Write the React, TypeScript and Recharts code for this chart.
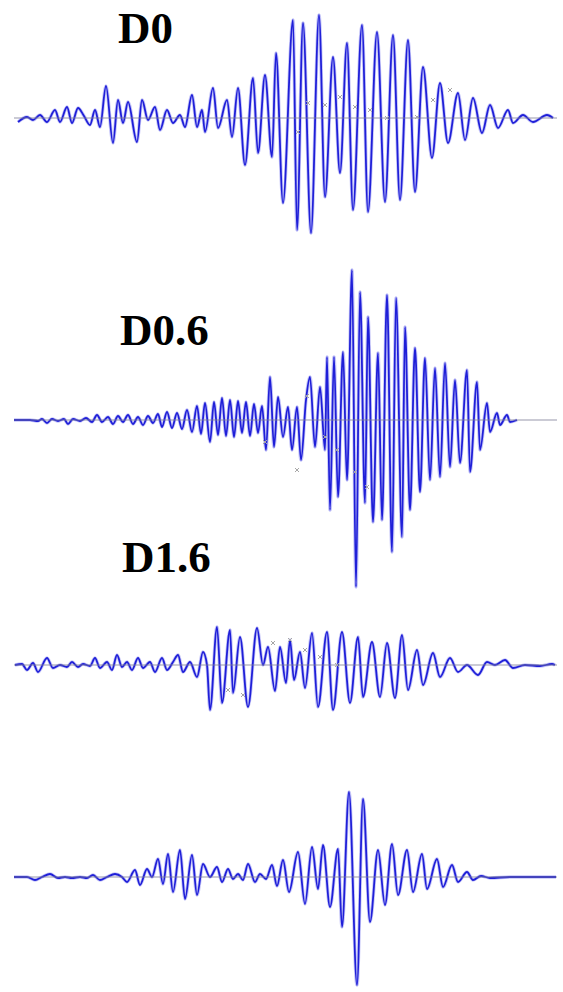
import React from "react";
import { ComposedChart, Line, Scatter, XAxis, YAxis, ReferenceLine } from "recharts";

const WIDTH = 563;
const HEIGHT = 992;

// Each trace: [time, amplitude] pairs at the turning points of the record.
const traceD0: [number, number][] = [
  [18, -4], [27, 1], [33, -2], [40, 3], [47, -4], [55, 8], [60, -4], [67, 11], [72, -5], [78, 10],
  [84, 2], [90, -7], [95, 8], [100, -9], [106, 32], [113, -25], [118, 18], [123, -5], [128, 16], [137, -24],
  [142, 18], [148, -2], [155, 11], [160, -12], [167, 8], [173, -5], [180, 3], [185, -9], [192, 23], [197, -9],
  [202, 8], [205, -14], [213, 30], [218, -10], [227, 18], [232, -19], [238, 30], [245, -47], [253, 40], [258, -35],
  [265, 43], [272, -39], [276, 65], [283, -85], [293, 98], [297, -112], [303, 95], [311, -115], [319, 103], [325, -79],
  [333, 61], [340, -55], [347, 75], [353, -92], [362, 93], [368, -94], [377, 86], [385, -84], [393, 83], [400, -82],
  [408, 78], [415, -74], [423, 51], [432, -40], [440, 35], [448, -25], [458, 25], [465, -22], [473, 20], [482, -15],
  [490, 13], [498, -10], [508, 8], [513, -5], [523, 3], [533, -4], [547, 3], [553, 0],
];

const traceD06: [number, number][] = [
  [14, 0], [30, 0], [38, -1], [42, 1], [47, -3], [52, 1], [58, -1], [64, 1], [68, -4], [73, 1],
  [80, -1], [86, 2], [92, -2], [97, 5], [102, -2], [108, 3], [113, -4], [118, 4], [123, -2], [128, 5],
  [133, -4], [138, 3], [143, -5], [148, 4], [153, -3], [158, 6], [162, -7], [167, 8], [172, -8], [177, 7],
  [182, -9], [187, 10], [192, -12], [197, 14], [201, -14], [205, 17], [210, -22], [214, 18], [218, -15], [222, 22],
  [226, -16], [230, 20], [234, -17], [238, 19], [242, -13], [246, 18], [250, -16], [254, 16], [258, -13], [262, 14],
  [266, -30], [270, 43], [274, -27], [278, 23], [283, -17], [288, 13], [292, -30], [297, 13], [301, -40], [306, 20],
  [310, 43], [315, -27], [320, 33], [325, -30], [327, 63], [330, -90], [334, 63], [338, -77], [343, 68], [347, -60],
  [352, 150], [356, -167], [360, 128], [365, -83], [368, 103], [373, -102], [378, 67], [382, -100], [387, 125], [392, -132],
  [396, 122], [402, -117], [405, 93], [410, -90], [415, 72], [420, -72], [425, 62], [430, -60], [435, 52], [440, -57],
  [445, 57], [450, -47], [455, 40], [460, -43], [467, 50], [470, -52], [477, 38], [480, -30], [487, 17], [490, -12],
  [497, 7], [500, -5], [507, 5], [510, -2], [517, 0],
];

const traceD16: [number, number][] = [
  [15, 0], [22, 1], [27, -5], [33, 2], [38, -7], [47, 7], [53, -3], [60, 0], [67, -2], [72, 3],
  [78, -2], [83, 1], [90, -1], [95, 7], [100, -3], [107, 3], [112, -5], [117, 10], [122, -2], [127, 3],
  [132, -5], [138, 7], [143, -3], [150, 3], [155, -7], [162, 7], [167, -5], [173, 3], [178, 10], [183, -7],
  [190, 3], [197, -12], [203, 13], [207, 0], [210, -45], [217, 38], [222, -38], [230, 35], [233, -28], [240, 28],
  [248, -42], [257, 37], [263, 0], [268, 18], [275, -26], [280, 18], [286, -18], [290, 25], [294, -15], [300, 13],
  [305, -23], [312, 32], [318, -42], [327, 33], [333, -45], [342, 33], [350, -38], [358, 28], [363, -32], [372, 23],
  [380, -32], [387, 22], [395, -33], [402, 30], [408, -25], [417, 15], [423, -20], [433, 12], [440, -12], [450, 7],
  [458, -7], [467, 0], [478, -10], [487, 3], [495, 0], [505, 5], [513, -3], [525, 0], [540, -1], [552, 1], [555, 0],
];

const traceD4: [number, number][] = [
  [14, 0], [27, 0], [35, -3], [42, 0], [50, 3], [58, -1], [65, 0], [72, -1], [80, 0], [87, -1],
  [93, 2], [100, -3], [107, 0], [115, 3], [122, 0], [127, -5], [135, 7], [140, -8], [147, 8], [152, 0],
  [158, 18], [163, -7], [168, 23], [173, -15], [180, 27], [185, -22], [192, 22], [197, -18], [203, 13], [210, 0],
  [217, 10], [222, -5], [228, 8], [233, -2], [238, 3], [243, -3], [248, 13], [255, -5], [260, 3], [266, -2],
  [272, 12], [277, -9], [283, 17], [289, -15], [298, 25], [305, -27], [312, 30], [318, -12], [323, 32], [330, -30],
  [338, 28], [342, -50], [349, 85], [357, -108], [363, 78], [370, -45], [378, 27], [385, -28], [392, 33], [398, -18],
  [407, 27], [413, -15], [422, 23], [427, -12], [437, 18], [443, -10], [452, 12], [458, -5], [467, 5], [473, -3],
  [481, 1], [490, -1], [510, 0], [530, 0], [556, 0],
];

// Picked arrival marks (small grey crosses).
const marksD0: [number, number][] = [
  [298, -14], [308, 15], [325, 13], [340, 21], [355, 11], [370, 8], [387, 0], [417, 1], [433, 18], [450, 28],
];
const marksD06: [number, number][] = [
  [265, -22], [297, -50], [307, 24], [325, -17], [337, -30], [355, -52], [367, -67],
];
const marksD16: [number, number][] = [
  [228, -25], [243, -30], [273, 22], [290, 25], [305, 15], [320, 8], [337, 0],
];
const marksD4: [number, number][] = [];

const panelTops = [0, 250, 600, 770];
const panelHeights = [245, 345, 130, 222];
const zeroLines = [118, 170, 65, 107];
const labels = ["D0", "D0.6", "D1.6", ""];
const labelSpots: [number, number][] = [[118, 43], [120, 345], [122, 572], [0, 0]];

const toRows = (pts: [number, number][]) => pts.map(([t, v]) => ({ t, v }));

const XMark = (props: any) => {
  const { cx, cy } = props;
  if (cx == null || cy == null) return null;
  return (
    <path
      d={`M${cx - 2},${cy - 2}L${cx + 2},${cy + 2}M${cx + 2},${cy - 2}L${cx - 2},${cy + 2}`}
      stroke="#a6a6a6"
      strokeWidth={1}
      fill="none"
    />
  );
};

function Panel({ top, height, zero, trace, marks }: { top: number; height: number; zero: number; trace: [number, number][]; marks: [number, number][] }) {
  const rows = toRows(trace);
  const markRows = toRows(marks);
  return (
    <div style={{ position: "absolute", left: 0, top }}>
      <ComposedChart width={WIDTH} height={height} data={rows} margin={{ top: 0, right: 6, bottom: 0, left: 14 }}>
        <XAxis type="number" dataKey="t" domain={[14, 557]} hide allowDataOverflow />
        <YAxis type="number" domain={[zero - height, zero]} hide allowDataOverflow />
        <Line
          dataKey="v"
          type="monotone"
          stroke="#8c8cf2"
          strokeWidth={3.4}
          strokeOpacity={0.5}
          dot={false}
          isAnimationActive={false}
        />
        <Line
          dataKey="v"
          type="monotone"
          stroke="#1f1fd8"
          strokeWidth={1.8}
          dot={false}
          isAnimationActive={false}
        />
        <ReferenceLine y={0} stroke="#7e7e96" strokeWidth={1} strokeOpacity={0.8} />
        {markRows.length > 0 ? (
          <Scatter data={markRows} dataKey="v" shape={XMark} isAnimationActive={false} />
        ) : null}
      </ComposedChart>
    </div>
  );
}

export default function App() {
  const traces = [traceD0, traceD06, traceD16, traceD4];
  const marks = [marksD0, marksD06, marksD16, marksD4];
  return (
    <div style={{ position: "absolute", left: 0, top: 0, width: WIDTH, height: HEIGHT, background: "#ffffff", overflow: "hidden" }}>
      {traces.map((tr, i) => (
        <Panel key={i} top={panelTops[i]} height={panelHeights[i]} zero={zeroLines[i]} trace={tr} marks={marks[i]} />
      ))}
      <svg width={WIDTH} height={HEIGHT} style={{ position: "absolute", left: 0, top: 0, pointerEvents: "none" }}>
        {labels.map((lab, i) =>
          lab ? (
            <text
              key={lab}
              x={labelSpots[i][0]}
              y={labelSpots[i][1]}
              fontFamily="'Liberation Serif', 'Times New Roman', serif"
              fontWeight="bold"
              fontSize={45}
              fill="#000000"
            >
              {lab}
            </text>
          ) : null
        )}
      </svg>
    </div>
  );
}
